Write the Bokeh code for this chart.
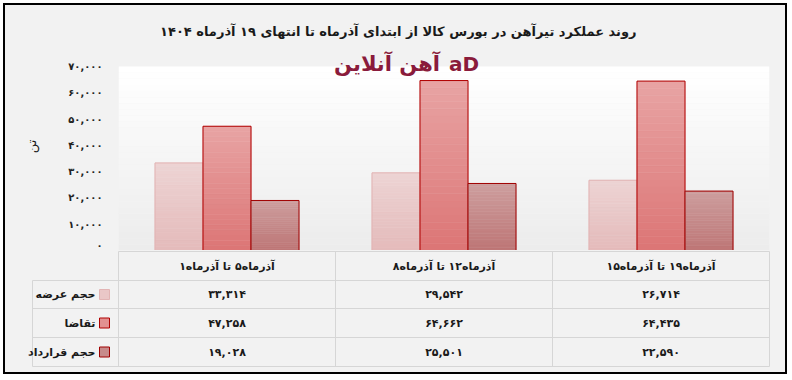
from bokeh.plotting import figure
from bokeh.layouts import column
from bokeh.models import ColumnDataSource, FactorRange, Range1d, FixedTicker, BoxAnnotation
from bokeh.transform import dodge
from bokeh.core.properties import value
from bokeh.embed import file_html
from bokeh.resources import INLINE

# ---------------- data ----------------
categories = [
    "آذرماه۵ تا آذرماه۱",
    "آذرماه۱۲ تا آذرماه۸",
    "آذرماه۱۹ تا آذرماه۱۵",
]
series_names = ["حجم عرضه", "تقاضا", "حجم قرارداد"]
supply = [33314, 29542, 26714]
demand = [47258, 64662, 64435]
contract = [19028, 25501, 22590]
y_ticks = [0, 10000, 20000, 30000, 40000, 50000, 60000, 70000]

title_text = "روند عملکرد تیرآهن در بورس کالا از ابتدای آذرماه تا انتهای ۱۹ آذرماه ۱۴۰۴"
y_label = "تن"
logo_text = "آهن آنلاین"

FA = str.maketrans("0123456789", "۰۱۲۳۴۵۶۷۸۹")


def fa(n):
    return f"{n:,}".translate(FA)


tick_labels = [fa(t) for t in y_ticks]

# ---------------- style ----------------
FONT = "DejaVu Sans"
BG = "#F2F2F2"
fills = ["#EAC7C7", "#E29090", "#C78B8B"]
grad_top = [(237, 212, 212), (232, 164, 164), (205, 158, 158)]
grad_bot = [(228, 186, 186), (220, 117, 117), (190, 118, 118)]
edges = ["#E2B4B4", "#B00000", "#A00000"]
GRID = "#D6D6D6"

W = 780
TOP_H = 245
BOT_H = 122
PX_PER_UNIT = 184 / 70000.0
FRAME_TOP = 37
y_end = (TOP_H - FRAME_TOP) / PX_PER_UNIT

# ---------------- chart ----------------
p = figure(width=W, height=TOP_H,
           x_range=FactorRange(*categories, range_padding=0),
           y_range=Range1d(0, y_end),
           output_backend="svg", toolbar_location=None,
           min_border_left=113, min_border_right=W - 764,
           min_border_top=FRAME_TOP, min_border_bottom=0,
           background_fill_color=BG, border_fill_color=BG,
           outline_line_color=None)
p.frame_align = False

p.title.text = title_text
p.title.align = "right"
p.title.offset = 133
p.title.text_font = FONT
p.title.text_font_size = "13px"
p.title.text_font_style = "bold"
p.title.text_color = "#1a1a1a"
p.title.standoff = 8

p.xaxis.visible = False
p.xgrid.visible = False
p.ygrid.visible = False

ya = p.yaxis[0]
ya.ticker = FixedTicker(ticks=y_ticks)
ya.major_label_overrides = {t: l for t, l in zip(y_ticks, tick_labels)}
ya.axis_line_color = None
ya.major_tick_line_color = None
ya.minor_tick_line_color = None
ya.major_label_standoff = 10
ya.major_label_text_font = FONT
ya.major_label_text_font_size = "10px"
ya.major_label_text_font_style = "bold"
ya.major_label_text_color = "#222222"
ya.axis_label = y_label
ya.axis_label_text_font = FONT
ya.axis_label_text_font_size = "13px"
ya.axis_label_text_font_style = "normal"
ya.axis_label_text_color = "#1a1a1a"
ya.axis_label_standoff = 26

# plot-area gradient (white at top to light gray at bottom)
N = 30
top_c = (255, 255, 255)
bot_c = (236, 236, 236)
for i in range(N):
    f = i / (N - 1)
    c = tuple(int(round(bot_c[k] + (top_c[k] - bot_c[k]) * f)) for k in range(3))
    p.add_layout(BoxAnnotation(bottom=70000 * i / N, top=70000 * (i + 1) / N,
                               fill_color="#%02x%02x%02x" % c, fill_alpha=1,
                               line_color=None, level="underlay"))

bw = 48 / 217.0
series = [supply, demand, contract]
offsets = [-bw, 0, bw]
M = 24
for k in range(3):
    vals = series[k]
    for j in range(M):
        f = (j + 0.5) / M
        c = tuple(int(round(grad_bot[k][q] + (grad_top[k][q] - grad_bot[k][q]) * f)) for q in range(3))
        seg = ColumnDataSource(dict(cat=categories,
                                    b=[v * j / M for v in vals],
                                    t=[v * (j + 1) / M for v in vals]))
        p.vbar(x=dodge("cat", offsets[k], range=p.x_range), top="t", bottom="b", width=bw,
               source=seg, fill_color="#%02x%02x%02x" % c, line_color="#%02x%02x%02x" % c,
               line_width=0.6)
    src = ColumnDataSource(dict(cat=categories, v=vals))
    p.vbar(x=dodge("cat", offsets[k], range=p.x_range), top="v", bottom=0, width=bw,
           source=src, fill_alpha=0, line_color=edges[k], line_width=1)

logo_y = (250 - 63) / PX_PER_UNIT
p.text(x=[categories[1]], y=[logo_y], text=[logo_text], x_offset=-57,
       text_align="center", text_baseline="middle",
       text_font=value(FONT), text_font_size="21px", text_font_style="bold",
       text_color="#8A1B3B")
p.text(x=[categories[1]], y=[logo_y], text=["aD"], x_offset=20,
       text_align="center", text_baseline="middle",
       text_font=value(FONT), text_font_size="20px", text_font_style="bold",
       text_color="#8A1B3B")

# ---------------- table ----------------
t = figure(width=W, height=BOT_H, x_range=Range1d(0, W), y_range=Range1d(BOT_H, 0),
           output_backend="svg", toolbar_location=None, min_border=0,
           background_fill_color=BG, border_fill_color=BG, outline_line_color=None)
t.frame_align = False
t.axis.visible = False
t.grid.visible = False

col_edges = [27, 113, 330, 547, 764]
row_edges = [1, 30, 58, 87, 116]

hx0 = [col_edges[1]] + [col_edges[0]] * 4
hx1 = [col_edges[-1]] * 5
t.segment(x0=hx0, x1=hx1, y0=row_edges, y1=row_edges, line_color=GRID, line_width=1)
vx = col_edges
vy0 = [row_edges[1]] + [row_edges[0]] * 4
vy1 = [row_edges[-1]] * 5
t.segment(x0=vx, x1=vx, y0=vy0, y1=vy1, line_color=GRID, line_width=1)

ccx = [(col_edges[i + 1] + col_edges[i + 2]) / 2 for i in range(3)]
rcy = [(row_edges[i] + row_edges[i + 1]) / 2 for i in range(4)]

t.text(x=ccx, y=[rcy[0]] * 3, text=categories, text_align="center", text_baseline="middle",
       text_font=value(FONT), text_font_size="11px", text_font_style="bold", text_color="#1a1a1a")

for r in range(3):
    t.text(x=ccx, y=[rcy[r + 1]] * 3, text=[fa(v) for v in series[r]],
           text_align="center", text_baseline="middle",
           text_font=value(FONT), text_font_size="11px", text_font_style="bold", text_color="#1a1a1a")

t.rect(x=[99] * 3, y=rcy[1:], width=10, height=10, fill_color=fills, line_color=edges, line_width=1)
t.text(x=[90] * 3, y=rcy[1:], text=series_names, text_align="right", text_baseline="middle",
       text_font=value(FONT), text_font_size="11px", text_font_style="bold", text_color="#1a1a1a")

layout = column(p, t, spacing=0,
                styles={"border": "2px solid black", "margin": "3px 0 0 3px", "background-color": BG})

open("out.html", "w").write(file_html(layout, INLINE))
